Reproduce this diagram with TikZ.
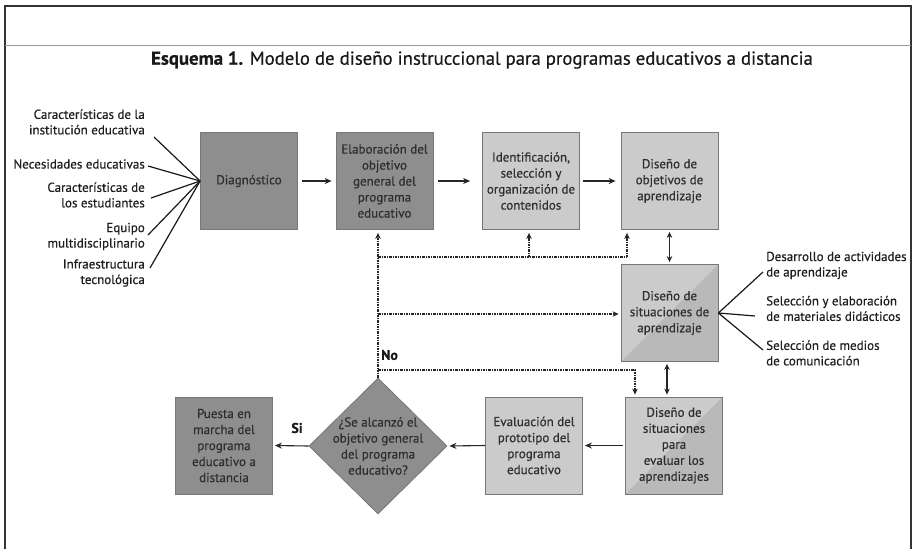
\documentclass[tikz,border=0pt]{standalone}
\usepackage{fontspec}
\setmainfont{PT Sans}[FakeBold=0.45]
\usetikzlibrary{arrows.meta,shapes.geometric}
\definecolor{darkbox}{HTML}{8E8E8E}
\definecolor{lightbox}{HTML}{CBCBCB}
\definecolor{shadebox}{HTML}{B9B9B9}
\definecolor{boxline}{HTML}{777777}
\definecolor{boxtext}{HTML}{2E2E2E}
\definecolor{lbltext}{HTML}{1E1E1E}
\begin{document}
\begin{tikzpicture}[x=1pt,y=-1pt,
  box/.style={draw=boxline, line width=0.8pt, minimum width=97pt, minimum height=97pt,
    inner sep=0pt, align=center, font=\fontsize{13}{16}\selectfont, text=boxtext},
  darkb/.style={box, fill=darkbox},
  lightb/.style={box, fill=lightbox},
  shadeb/.style={lightb, path picture={\fill[shadebox]
      (path picture bounding box.south west) -- (path picture bounding box.north east)
      -- (path picture bounding box.south east) -- cycle;}},
  arr/.style={-{Stealth[length=7pt,width=6pt]}, line width=1.1pt, draw=black!85},
  dbl/.style={{Stealth[length=6pt,width=5.5pt]}-{Stealth[length=6pt,width=5.5pt]}, line width=1.1pt, draw=black!85},
  dots/.style={line width=1.2pt, dash pattern=on 2.5pt off 1pt on 1pt off 1pt, draw=black!85},
  dotarr/.style={dots, -{Stealth[length=6pt,width=5.5pt]}},
  lline/.style={line width=1.2pt, draw=black!90},
  lbl/.style={font=\fontsize{13}{15.5}\selectfont, text=lbltext, inner sep=0pt},
  lblL/.style={lbl, align=right, anchor=east},
  lblR/.style={lbl, align=left, anchor=west},
  bold/.style={font=\fontsize{14}{16}\selectfont\bfseries, text=black!90, inner sep=0pt}
]
\useasboundingbox (0,0) rectangle (918,549);
\fill[white] (0,0) rectangle (918,549);
% frame
\draw[line width=1.2pt, black!80] (5,549) -- (5,6) -- (911,6) -- (911,549);
\draw[line width=0.8pt, black!40] (5,45) -- (911,45);
% title
\node[inner sep=0pt, font=\fontsize{18.8}{22}\selectfont, text=black!90] (title) at (482,60)
  {\textbf{Esquema 1.} Modelo de diseño instruccional para programas educativos a distancia};

% boxes
\node[darkb] (diag) at (249,181) {Diagnóstico};
\node[darkb] (elab) at (384.5,181) {Elaboración del\\objetivo\\general del\\programa\\educativo};
\node[lightb] (iden) at (531,181) {Identificación,\\selección y\\organización de\\contenidos};
\node[lightb] (obj) at (669.5,181) {Diseño de\\objetivos de\\aprendizaje};
\node[shadeb] (sit) at (669.5,313) {Diseño de\\situaciones de\\aprendizaje};
\node[shadeb] (eval) at (674,445.5) {Diseño de\\situaciones\\para\\evaluar los\\aprendizajes};
\node[lightb] (proto) at (534,445.5) {Evaluación del\\prototipo del\\programa\\educativo};
\node[diamond, aspect=1, draw=boxline, line width=0.8pt, fill=darkbox, minimum width=138pt,
  minimum height=136pt, inner sep=0pt] (dia) at (378,446) {};
\node[align=center, font=\fontsize{13}{16}\selectfont, text=boxtext, inner sep=0pt] (diatext) at (dia) {¿Se alcanzó el\\objetivo general\\del programa\\educativo?};
\node[darkb] (puesta) at (224,445.5) {Puesta en\\marcha del\\programa\\educativo a\\distancia};

% main arrows
\draw[arr, shorten <=4pt, shorten >=4pt] (diag.east) -- (elab.west);
\draw[arr, shorten <=5pt, shorten >=12pt] (elab.east) -- (iden.west);
\draw[arr, shorten <=3pt, shorten >=5pt] (iden.east) -- (obj.west);
\draw[dbl, shorten <=2pt, shorten >=2pt] (obj.south) -- (sit.north);
\draw[dbl, shorten <=2pt, shorten >=2pt] ([xshift=-2.5pt]sit.south) -- ([xshift=-2.5pt]sit.south |- eval.north);
\draw[arr, shorten <=2pt, shorten >=2pt] (eval.west) -- (eval.west -| proto.east);
\draw[arr, shorten >=2pt] (proto.west) -- (dia.east);
\draw[arr, shorten >=2pt] (dia.west) -- (puesta.east);

% feedback (dotted)
\coordinate (h1) at (378,257);
\coordinate (h1e) at (627,257);
\coordinate (h2) at (378,314);
\coordinate (h3) at (378,370);
\coordinate (h3e) at (635,370);
\draw[dotarr, shorten >=3pt] (dia.north) -- (dia.north |- elab.south);
\draw[dots] (h1) -- (h1e);
\draw[dotarr, shorten >=3pt] (h1e) -- (h1e |- obj.south);
\draw[dotarr, shorten >=3pt] ([xshift=-2pt]iden.south |- h1) -- ([xshift=-2pt]iden.south);
\draw[dotarr, shorten >=2pt] (h2) -- (sit.west |- h2);
\draw[dotarr, shorten >=2pt] (h3) -- (h3e) -- (h3e |- eval.north);
\node[bold, anchor=west] (no) at (381,355) {No};
\node[bold] (si) at (297,428) {Si};

% left labels
\node[lblL] (l1) at (145,122) {Características de la\\institución educativa};
\node[lblL] (l2) at (145,164) {Necesidades educativas};
\node[lblL] (l3) at (145,195) {Características de\\los estudiantes};
\node[lblL] (l4) at (145,236.5) {Equipo\\multidisciplinario};
\node[lblL] (l5) at (145,273) {Infraestructura\\tecnológica};
\coordinate (e1) at (154,137);
\coordinate (e2) at (148,166);
\coordinate (e3) at (151,198);
\coordinate (e4) at (148,235);
\coordinate (e5) at (150,268);
\foreach \e in {e1,e2,e3,e4,e5} \draw[lline] (\e) -- (diag.west);

% right labels
\node[lblR] (r1) at (766,265.5) {Desarrollo de actividades\\de aprendizaje};
\node[lblR] (r2) at (766,308.5) {Selección y elaboración\\de materiales didácticos};
\node[lblR] (r3) at (766,353) {Selección de medios\\de comunicación};
\coordinate (f1) at (763,272);
\coordinate (f2) at (755,316);
\coordinate (f3) at (763,350);
\foreach \f in {f1,f2,f3} \draw[lline] (sit.east) -- (\f);
\end{tikzpicture}
\end{document}
